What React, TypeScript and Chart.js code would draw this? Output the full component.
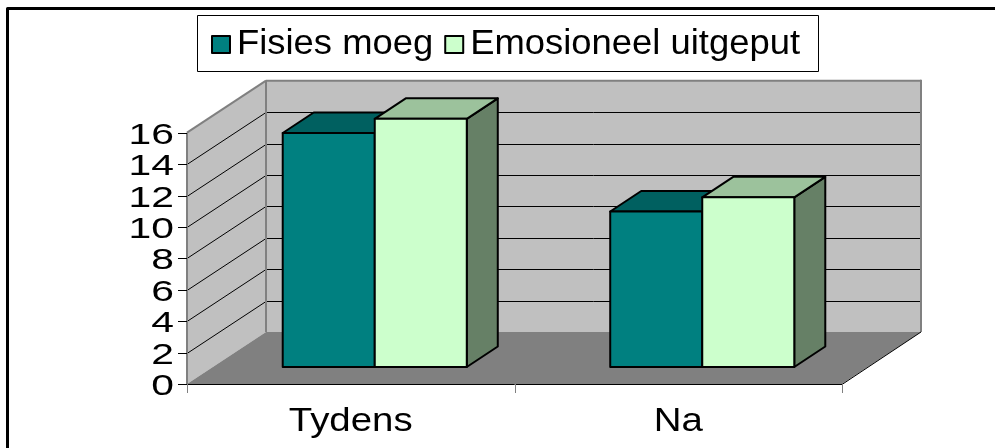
import React, { useEffect, useRef } from "react";
import { Chart, registerables } from "chart.js";

Chart.register(...registerables);

const CATEGORIES = ["Tydens", "Na"];
const SERIES_LABELS = ["Fisies moeg", "Emosioneel uitgeput"];
const FISIES_MOEG = [14.9, 9.9];
const EMOSIONEEL_UITGEPUT = [15.8, 10.8];
const Y_TICKS = [0, 2, 4, 6, 8, 10, 12, 14, 16];

const FRONT = ["#008080", "#CCFFCC"];
const TOP = ["#006060", "#9CC29C"];
const SIDE = ["#004D4D", "#668066"];

const FONT = "'Liberation Sans', Arial, sans-serif";

// 3D geometry
const WALL_DX = 79;
const WALL_DY = 52;
const BAR_OX = 24;
const BAR_OY = 17;
const BAR_DX = 31;
const BAR_DY = 20.5;

function stretchedText(
  ctx: CanvasRenderingContext2D,
  text: string,
  x: number,
  y: number,
  size: number,
  sx: number,
  align: CanvasTextAlign
) {
  ctx.save();
  ctx.translate(x, y);
  ctx.scale(sx, 1);
  ctx.font = `${size}px ${FONT}`;
  ctx.textAlign = align;
  ctx.textBaseline = "alphabetic";
  ctx.fillStyle = "#000";
  ctx.fillText(text, 0, 0);
  ctx.restore();
}

function poly(ctx: CanvasRenderingContext2D, pts: number[][], fill: string | null, stroke: string | null, lw = 1) {
  ctx.beginPath();
  ctx.moveTo(pts[0][0], pts[0][1]);
  for (let i = 1; i < pts.length; i++) ctx.lineTo(pts[i][0], pts[i][1]);
  ctx.closePath();
  if (fill) {
    ctx.fillStyle = fill;
    ctx.fill();
  }
  if (stroke) {
    ctx.strokeStyle = stroke;
    ctx.lineWidth = lw;
    ctx.lineJoin = "round";
    ctx.stroke();
  }
}

function line(ctx: CanvasRenderingContext2D, x1: number, y1: number, x2: number, y2: number, color: string, lw = 1) {
  ctx.beginPath();
  ctx.moveTo(x1, y1);
  ctx.lineTo(x2, y2);
  ctx.strokeStyle = color;
  ctx.lineWidth = lw;
  ctx.stroke();
}

const threeD = {
  id: "threeD",
  beforeDraw(chart: any) {
    const ctx = chart.ctx as CanvasRenderingContext2D;
    ctx.save();
    ctx.fillStyle = "#fff";
    ctx.fillRect(0, 0, chart.width, chart.height);
    ctx.restore();
  },
  beforeDatasetsDraw(chart: any) {
    const ctx = chart.ctx as CanvasRenderingContext2D;
    const xs = chart.scales.x;
    const ys = chart.scales.y;
    const L = xs.left;
    const R = xs.right;
    const y0 = ys.getPixelForValue(0);
    const yMax = ys.getPixelForValue(Y_TICKS[Y_TICKS.length - 1]);
    ctx.save();

    // back wall
    poly(ctx, [[L + WALL_DX, yMax - WALL_DY], [R + WALL_DX, yMax - WALL_DY], [R + WALL_DX, y0 - WALL_DY], [L + WALL_DX, y0 - WALL_DY]], "#C0C0C0", null);
    // left wall
    poly(ctx, [[L, y0], [L, yMax], [L + WALL_DX, yMax - WALL_DY], [L + WALL_DX, y0 - WALL_DY]], "#C0C0C0", null);
    // floor
    poly(ctx, [[L, y0], [R, y0], [R + WALL_DX, y0 - WALL_DY], [L + WALL_DX, y0 - WALL_DY]], "#808080", null);

    // gridlines
    for (const v of Y_TICKS) {
      if (v === Y_TICKS[0] || v === Y_TICKS[Y_TICKS.length - 1]) continue;
      const py = Math.round(ys.getPixelForValue(v)) + 0.5;
      line(ctx, L, py, L + WALL_DX, py - WALL_DY, "#000", 1);
      line(ctx, L + WALL_DX, py - WALL_DY, R + WALL_DX, py - WALL_DY, "#000", 1);
    }

    // wall outlines
    ctx.lineCap = "butt";
    line(ctx, L, yMax, L + WALL_DX, yMax - WALL_DY, "#808080", 2);
    line(ctx, L + WALL_DX, yMax - WALL_DY, R + WALL_DX, yMax - WALL_DY, "#808080", 2);
    line(ctx, R + WALL_DX, yMax - WALL_DY - 1, R + WALL_DX, y0 - WALL_DY, "#808080", 2);
    line(ctx, L + WALL_DX, yMax - WALL_DY, L + WALL_DX, y0 - WALL_DY, "#808080", 2);

    // floor edges / axes
    line(ctx, L, y0 + 0.5, R, y0 + 0.5, "#000", 1);
    line(ctx, R, y0 + 0.5, R + WALL_DX, y0 - WALL_DY, "#000", 1);
    line(ctx, L, yMax, L, y0, "#808080", 2);

    // y ticks
    for (const v of Y_TICKS) {
      const py = Math.round(ys.getPixelForValue(v)) + 0.5;
      line(ctx, L - 9, py, L, py, "#000", 1);
      stretchedText(ctx, String(v), L - 13, py + 10.8, 30, 1.36, "right");
    }
    // x ticks
    const n = CATEGORIES.length;
    for (let i = 0; i <= n; i++) {
      const px = Math.round(L + ((R - L) * i) / n) + 0.5;
      line(ctx, px, y0, px, y0 + 9, "#808080", 1);
    }
    CATEGORIES.forEach((c, i) => {
      const px = xs.getPixelForValue(i);
      stretchedText(ctx, c, px, 431, 34, 1.13, "center");
    });

    // bars
    for (let i = 0; i < n; i++) {
      chart.data.datasets.forEach((ds: any, di: number) => {
        const meta = chart.getDatasetMeta(di);
        const el = meta.data[i];
        if (!el) return;
        const p = el.getProps(["x", "y", "base", "width"], true);
        const l = p.x - p.width / 2 + BAR_OX;
        const r = p.x + p.width / 2 + BAR_OX;
        const t = p.y - BAR_OY;
        const b = p.base - BAR_OY;
        const lw = 2;
        poly(ctx, [[r, t], [r + BAR_DX, t - BAR_DY], [r + BAR_DX, b - BAR_DY], [r, b]], SIDE[di], "#000", lw);
        poly(ctx, [[l, t], [r, t], [r + BAR_DX, t - BAR_DY], [l + BAR_DX, t - BAR_DY]], TOP[di], "#000", lw);
        poly(ctx, [[l, t], [r, t], [r, b], [l, b]], FRONT[di], "#000", lw);
      });
    }

    // legend
    ctx.fillStyle = "#fff";
    ctx.fillRect(197.5, 15.5, 621, 56);
    ctx.strokeStyle = "#000";
    ctx.lineWidth = 1;
    ctx.strokeRect(197.5, 15.5, 621, 56);
    const sx = 1.04;
    const fs = 35;
    let lx = 212;
    SERIES_LABELS.forEach((label, di) => {
      ctx.fillStyle = FRONT[di];
      ctx.fillRect(lx, 36, 18, 17);
      ctx.strokeStyle = "#000";
      ctx.lineWidth = 2;
      ctx.strokeRect(lx, 36, 18, 17);
      ctx.font = `${fs}px ${FONT}`;
      const w = ctx.measureText(label).width * sx;
      stretchedText(ctx, label, lx + 25, 53.5, fs, sx, "left");
      lx = lx + 25 + w + 12;
    });

    // outer frame
    ctx.strokeStyle = "#000";
    ctx.lineWidth = 3;
    ctx.strokeRect(7.5, 8.5, 2000, 2000);

    ctx.restore();
    return false;
  },
};

export default function App() {
  const canvasRef = useRef<HTMLCanvasElement | null>(null);
  useEffect(() => {
    const canvas = canvasRef.current;
    if (!canvas) return;
    const chart = new Chart(canvas, {
      type: "bar",
      data: {
        labels: CATEGORIES,
        datasets: [
          { label: SERIES_LABELS[0], data: FISIES_MOEG, backgroundColor: FRONT[0] },
          { label: SERIES_LABELS[1], data: EMOSIONEEL_UITGEPUT, backgroundColor: FRONT[1] },
        ],
      },
      options: {
        responsive: false,
        animation: false,
        events: [],
        layout: { padding: { left: 187, right: 153, top: 132.7, bottom: 64 } },
        plugins: { legend: { display: false }, tooltip: { enabled: false } },
        datasets: { bar: { categoryPercentage: 0.562, barPercentage: 1 } },
        scales: {
          x: { display: false, offset: true },
          y: { display: false, min: 0, max: 16, ticks: { stepSize: 2 } },
        },
      } as any,
      plugins: [threeD],
    });
    return () => chart.destroy();
  }, []);
  return (
    <div style={{ position: "absolute", left: 0, top: 0, width: 995, height: 448 }}>
      <canvas ref={canvasRef} width={995} height={448} style={{ display: "block", width: 995, height: 448 }} />
    </div>
  );
}
